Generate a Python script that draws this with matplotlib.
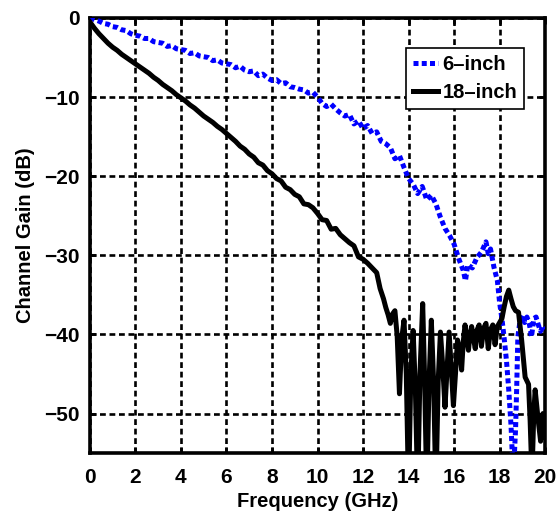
import numpy as np
import matplotlib
matplotlib.use("Agg")
from matplotlib import pyplot as plt

plt.rcParams['font.family'] = ['Liberation Sans', 'DejaVu Sans']
plt.rcParams['font.weight'] = 'bold'

# 6-inch channel (blue, dotted)
f6 = [0, 0.2, 0.4, 0.6, 0.8, 1.0, 1.2, 1.4, 1.6, 1.8, 2.0, 2.2, 2.4, 2.6, 2.8,
      3.0, 3.2, 3.4, 3.6, 3.8, 4.0, 4.2, 4.4, 4.6, 4.8, 5.0, 5.2, 5.4, 5.6, 5.8,
      6.0, 6.2, 6.4, 6.6, 6.8, 7.0, 7.2, 7.4, 7.6, 7.8, 8.0, 8.2, 8.4, 8.6, 8.8,
      9.0, 9.2, 9.4, 9.6, 9.8, 10.0, 10.2, 10.4, 10.6, 10.8, 11.0, 11.2, 11.4,
      11.6, 11.8, 12.0, 12.2, 12.4, 12.6, 12.8, 13.0, 13.2, 13.4, 13.6, 13.8,
      14.0, 14.2, 14.4, 14.6, 14.8, 15.0, 15.2, 15.4, 15.6, 15.8, 16.0, 16.2,
      16.4, 16.5, 16.6, 16.8, 17.0, 17.2, 17.4, 17.5, 17.6, 17.75, 17.9, 18.0,
      18.1, 18.2, 18.3, 18.4, 18.5, 18.6, 18.7, 18.75, 18.8, 18.9, 19.0, 19.1,
      19.2, 19.3, 19.4, 19.5, 19.6, 19.7, 19.8, 19.9, 20.0]
g6 = [0, -0.2, -0.4, -0.7, -0.8, -1.1, -1.2, -1.5, -1.6, -2.0, -2.2, -2.3, -2.6, -2.6, -3.0,
      -3.1, -3.2, -3.6, -3.5, -3.9, -4.0, -4.1, -4.5, -4.4, -4.8, -4.9, -5.0, -5.4, -5.3, -5.7,
      -5.8, -5.9, -6.3, -6.1, -6.6, -6.8, -6.7, -7.3, -7.1, -7.6, -7.9, -7.8, -8.3, -8.2, -8.7,
      -8.8, -9.0, -9.1, -9.5, -9.4, -10.0, -10.8, -11.2, -10.9, -11.5, -12.0, -12.4, -12.2,
      -13.4, -13.0, -14.0, -13.6, -14.6, -14.4, -15.6, -15.9, -16.4, -17.8, -17.4, -18.9,
      -20.3, -21.0, -22.2, -21.3, -23.0, -22.4, -23.5, -25.2, -26.6, -27.5, -28.6, -30.4,
      -31.9, -33.2, -31.2, -31.6, -30.3, -29.6, -28.3, -29.8, -29.2, -31.5, -33.2, -36.0,
      -38.0, -40.5, -43.3, -47.0, -51.5, -58.0, -52.0, -46.7, -40.3, -38.2, -37.6, -38.5,
      -37.8, -38.6, -40.3, -38.0, -37.8, -38.8, -39.6, -38.9, -39.3]

# 18-inch channel (black, solid)
f18 = [0, 0.2, 0.4, 0.6, 0.8, 1.0, 1.2, 1.4, 1.6, 1.8, 2.0, 2.2, 2.4, 2.6, 2.8,
       3.0, 3.2, 3.4, 3.6, 3.8, 4.0, 4.2, 4.4, 4.6, 4.8, 5.0, 5.2, 5.4, 5.6, 5.8,
       6.0, 6.2, 6.4, 6.6, 6.8, 7.0, 7.2, 7.4, 7.6, 7.8, 8.0, 8.2, 8.4, 8.6, 8.8,
       9.0, 9.2, 9.4, 9.6, 9.8, 10.0, 10.2, 10.4, 10.6, 10.8, 11.0, 11.2, 11.4,
       11.6, 11.8, 12.0, 12.2, 12.4, 12.6, 12.75, 12.9, 13.0, 13.1, 13.2, 13.3,
       13.4, 13.5, 13.6, 13.7, 13.8, 13.9, 14.0, 14.1, 14.2, 14.3, 14.4, 14.5,
       14.62, 14.7, 14.8, 14.9, 15.0, 15.1, 15.2, 15.3, 15.4, 15.5, 15.6, 15.7,
       15.78, 15.87, 15.97, 16.06, 16.15, 16.25, 16.33, 16.4, 16.48, 16.56, 16.63,
       16.7, 16.77, 16.85, 16.93, 17.0, 17.1, 17.2, 17.3, 17.4, 17.5, 17.6, 17.7,
       17.8, 17.9, 18.0, 18.1, 18.2, 18.3, 18.4, 18.5, 18.6, 18.7, 18.83, 18.97,
       19.12, 19.27, 19.34, 19.42, 19.5, 19.56, 19.63, 19.7, 19.8, 19.9, 20.0]
g18 = [-0.5, -1.3, -2.0, -2.6, -3.2, -3.7, -4.1, -4.6, -5.0, -5.4, -5.8, -6.2, -6.6, -7.0, -7.5,
       -7.9, -8.4, -8.8, -9.2, -9.7, -10.1, -10.5, -11.0, -11.4, -11.9, -12.4, -12.8, -13.2, -13.7, -14.1,
       -14.6, -15.1, -15.6, -16.2, -16.6, -17.2, -17.6, -18.3, -18.6, -19.3, -19.7, -20.3, -20.6, -21.4, -21.7,
       -22.3, -22.6, -23.5, -23.6, -24.0, -24.7, -25.5, -25.6, -26.7, -26.6, -27.4, -27.9, -28.4,
       -28.8, -30.2, -30.5, -31.0, -31.6, -32.2, -34.2, -35.5, -36.6, -37.5, -38.6, -37.4,
       -37.0, -40.2, -47.5, -40.5, -38.2, -45.0, -60.0, -45.0, -39.5, -47.0, -60.0, -45.0,
       -36.1, -45.0, -60.0, -46.0, -38.2, -46.0, -60.0, -46.0, -39.7, -44.0, -49.2, -44.0,
       -39.7, -44.0, -49.0, -45.0, -40.7, -42.0, -44.5, -41.0, -38.8, -40.5, -42.0,
       -40.0, -39.0, -40.5, -41.8, -39.5, -38.8, -41.5, -39.2, -38.6, -41.8, -39.4, -38.8,
       -41.3, -39.0, -38.5, -38.0, -36.5, -35.2, -34.4, -35.5, -36.5, -37.0, -37.2, -40.8,
       -45.4, -46.3, -50.9, -58.0, -50.0, -47.0, -49.0, -51.0, -53.5, -50.0, -53.0]

xticks = [0, 2, 4, 6, 8, 10, 12, 14, 16, 18, 20]
yticks = [0, -10, -20, -30, -40, -50]

fig = plt.figure(figsize=(5.58, 5.12), dpi=100)
ax = fig.add_axes([0.161, 0.115, 0.816, 0.85])

ax.plot(f6, g6, color='#0000ff', lw=3.6, linestyle=(0, (1, 0.65)),
        dash_capstyle='butt', label='6\u2013inch', zorder=3)
ax.plot(f18, g18, color='black', lw=3.6, label='18\u2013inch', zorder=4)

ax.set_xlim(0, 20)
ax.set_ylim(-55, 0)
ax.set_xticks(xticks)
ax.set_yticks(yticks)
ax.grid(True, color='black', linestyle=(0, (2.2, 1.4)), lw=1.9)
ax.set_axisbelow(True)
ax.tick_params(direction='in', length=4, width=2, labelsize=15,
               top=True, right=True, pad=7)
ax.tick_params(axis='x', pad=11)
for lab in ax.get_xticklabels() + ax.get_yticklabels():
    lab.set_fontweight('bold')
for s in ax.spines.values():
    s.set_linewidth(2.6)

ax.set_xlabel('Frequency (GHz)', fontsize=14.5, fontweight='bold', labelpad=3)
ax.set_ylabel('Channel Gain (dB)', fontsize=14.5, fontweight='bold', labelpad=7)

leg = ax.legend(loc='upper right', bbox_to_anchor=(0.954, 0.931), fontsize=14.5,
                handlelength=1.25, handletextpad=0.2, borderpad=0.35,
                labelspacing=0.45, fancybox=False, framealpha=1,
                edgecolor='black', borderaxespad=0)
leg.get_frame().set_linewidth(1.2)
for t in leg.get_texts():
    t.set_fontweight('bold')

fig.savefig('out.png', dpi=100)
